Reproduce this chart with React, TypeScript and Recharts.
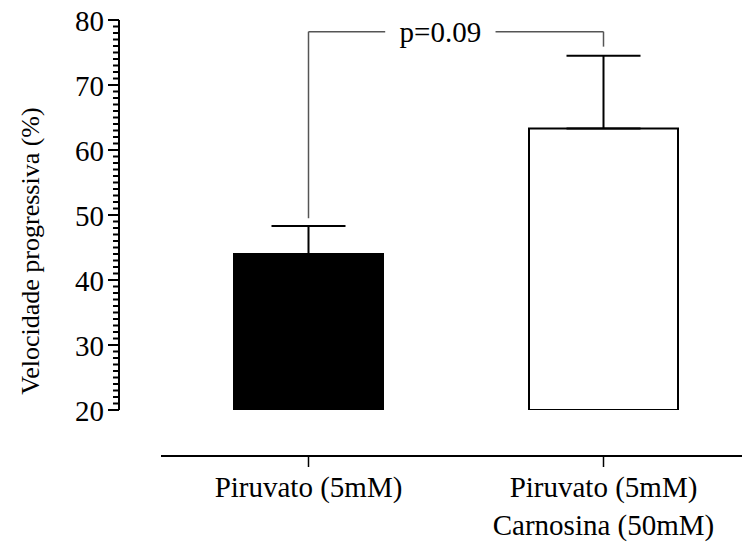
import React from 'react';
import { BarChart, Bar, Cell, XAxis, YAxis, ErrorBar, ReferenceLine } from 'recharts';

const FONT = "'Liberation Serif', 'Times New Roman', Times, serif";
const textStyle = { fontFamily: FONT };

// groups, means and SEM
const groupNames = ['Piruvato (5mM)', 'Piruvato (5mM) + Carnosina (50mM)'];
const groupLabelLines = [['Piruvato (5mM)'], ['Piruvato (5mM)', 'Carnosina (50mM)']];
const meanValues = [44.0, 63.3];
const semValues = [4.3, 11.2];
const barFills = ['#000000', '#ffffff'];

const majorTicks = [20, 30, 40, 50, 60, 70, 80];
const minorTicks = Array.from({ length: 61 }, (_, i) => 20 + i);

// significance bracket
const bracketTop = 78.2;
const bracketEnds = [49.5, 75.9];
const pLabel = 'p=0.09';

const chartData = groupNames.map((name, i) => ({
  name,
  mean: meanValues[i],
  err: [0, semValues[i]],
}));

const YTick = (props: any) => {
  const { x, y, payload } = props;
  const isMajor = majorTicks.includes(payload.value);
  return (
    <g>
      <line x1={x - (isMajor ? 11 : 6)} x2={x} y1={y} y2={y} stroke="#000" strokeWidth={2} />
      {isMajor && (
        <text x={x - 15} y={y + 11} textAnchor="end" fontSize={29} style={textStyle} fill="#000">
          {payload.value}
        </text>
      )}
    </g>
  );
};

const XTick = (props: any) => {
  const { x, y, payload } = props;
  const lines = groupLabelLines[payload.index] ?? [payload.value];
  return (
    <text x={x} y={y} textAnchor="middle" fontSize={29} style={textStyle} fill="#000">
      {lines.map((l, i) => (
        <tspan key={i} x={x} dy={i === 0 ? 30 : 38}>
          {l}
        </tspan>
      ))}
    </text>
  );
};

const YLabel = (props: any) => {
  const vb = props.viewBox;
  const cx = vb.x + 30;
  const cy = vb.y + vb.height / 2 + 36;
  return (
    <text
      x={cx}
      y={cy}
      transform={`rotate(-90, ${cx}, ${cy})`}
      textAnchor="middle"
      dominantBaseline="central"
      fontSize={26}
      style={textStyle}
      fill="#000"
    >
      Velocidade progressiva (%)
    </text>
  );
};

const BracketLabel = (props: any) => {
  const { x, y, width } = props.viewBox;
  return (
    <g>
      <rect x={x + width * 0.26} y={y - 14} width={width * 0.374} height={28} fill="#fff" />
      <text x={x + width * 0.447} y={y + 10} textAnchor="middle" fontSize={29} style={textStyle} fill="#000">
        {pLabel}
      </text>
    </g>
  );
};

const App: React.FC = () => {
  return (
    <div style={{ width: 742, height: 545, background: '#fff', fontFamily: FONT }}>
      <style>{'body{margin:0}'}</style>
      <BarChart
        width={742}
        height={545}
        data={chartData}
        margin={{ top: 20, right: -9, bottom: 0, left: 0 }}
        barSize={149}
        style={textStyle}
      >
        <XAxis xAxisId="gap" dataKey="name" height={46} axisLine={false} tickLine={false} tick={false} />
        <XAxis
          xAxisId="main"
          dataKey="name"
          height={89}
          interval={0}
          axisLine={{ stroke: '#000', strokeWidth: 2 }}
          tickLine={{ stroke: '#000', strokeWidth: 1.5 }}
          tickSize={11}
          tickMargin={0}
          tick={<XTick />}
        />
        <YAxis yAxisId="gap" width={42} axisLine={false} tickLine={false} tick={false} />
        <YAxis
          yAxisId="main"
          width={119}
          domain={[20, 80]}
          ticks={minorTicks}
          interval={0}
          allowDataOverflow
          axisLine={{ stroke: '#000', strokeWidth: 2 }}
          tickLine={false}
          tickSize={0}
          tickMargin={0}
          tick={<YTick />}
          label={YLabel}
        />
        <Bar xAxisId="main" yAxisId="main" dataKey="mean" stroke="#000" strokeWidth={2} isAnimationActive={false}>
          {chartData.map((d, i) => (
            <Cell key={d.name} fill={barFills[i]} />
          ))}
          <ErrorBar dataKey="err" direction="y" width={37} stroke="#000" strokeWidth={2} />
        </Bar>
        <ReferenceLine
          xAxisId="main"
          yAxisId="main"
          segment={[{ x: groupNames[0], y: bracketEnds[0] }, { x: groupNames[0], y: bracketTop }]}
          stroke="#555"
          strokeWidth={1.5}
        />
        <ReferenceLine
          xAxisId="main"
          yAxisId="main"
          segment={[{ x: groupNames[1], y: bracketEnds[1] }, { x: groupNames[1], y: bracketTop }]}
          stroke="#555"
          strokeWidth={1.5}
        />
        <ReferenceLine
          xAxisId="main"
          yAxisId="main"
          segment={[{ x: groupNames[0], y: bracketTop }, { x: groupNames[1], y: bracketTop }]}
          stroke="#555"
          strokeWidth={1.5}
          label={BracketLabel}
        />
      </BarChart>
    </div>
  );
};

export default App;
